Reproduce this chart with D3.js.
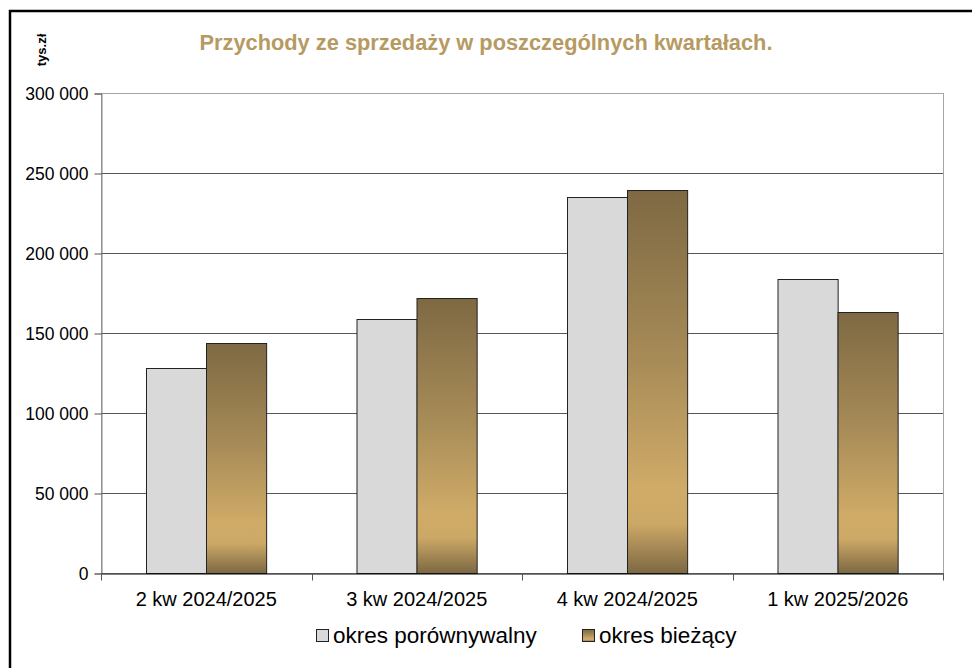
<!DOCTYPE html>
<html>
<head>
<meta charset="utf-8">
<script src="https://cdn.jsdelivr.net/npm/d3@7"></script>
<style>
  body { margin: 0; background: #fff; }
  svg { display: block; font-family: Arial, 'Liberation Sans', sans-serif; }
</style>
</head>
<body>
<script>
const categories = ['2 kw 2024/2025', '3 kw 2024/2025', '4 kw 2024/2025', '1 kw 2025/2026'];
const seriesNames = ['okres porównywalny', 'okres bieżący'];
const porownywalny = [128000, 159000, 235000, 184000];
const biezacy = [144000, 172000, 239500, 163000];
const yTicks = [0, 50000, 100000, 150000, 200000, 250000, 300000];

const box = {
  width: 972, height: 668,
  left: 101, top: 93, right: 943, bottom: 573
}

const svg = d3.select('body')
  .append('svg')
  .attr('width', box.width)
  .attr('height', box.height)

const defs = svg.append('defs')
const grad = defs.append('linearGradient')
  .attr('id', 'gold')
  .attr('x1', 0).attr('y1', 0).attr('x2', 0).attr('y2', 1)
grad.append('stop').attr('offset', '0%').attr('stop-color', '#7e6943')
grad.append('stop').attr('offset', '45%').attr('stop-color', '#a88c58')
grad.append('stop').attr('offset', '78%').attr('stop-color', '#d0ab68')
grad.append('stop').attr('offset', '87%').attr('stop-color', '#cca866')
grad.append('stop').attr('offset', '100%').attr('stop-color', '#7c6843')

// outer frame (only top and left visible)
svg.append('rect')
  .attr('x', 10).attr('y', 11)
  .attr('width', 1000).attr('height', 700)
  .attr('fill', 'none')
  .attr('stroke', '#000')
  .attr('stroke-width', 2.5)

const x = d3.scaleBand().domain(categories).range([box.left, box.right])
const x1 = d3.scaleBand().domain(seriesNames).range([0, x.bandwidth()]).paddingInner(0).paddingOuter(0.75)
const y = d3.scaleLinear().domain([0, 300000]).range([box.bottom, box.top])

// plot border
svg.append('rect')
  .attr('x', box.left + 0.5).attr('y', box.top + 0.5)
  .attr('width', box.right - box.left).attr('height', box.bottom - box.top)
  .attr('fill', 'none')
  .attr('stroke', '#a6a6a6')

// grid
svg.append('g')
  .selectAll('line')
  .data(yTicks.filter(d => d > 0 && d < 300000))
  .join('line')
  .attr('x1', box.left).attr('x2', box.right)
  .attr('y1', d => Math.round(y(d)) + 0.5)
  .attr('y2', d => Math.round(y(d)) + 0.5)
  .attr('stroke', '#555')

// y axis
const yAxis = d3.axisLeft(y)
  .tickValues(yTicks)
  .tickSize(7)
  .tickPadding(6)
  .tickFormat(d => d3.format(',')(d).replace(/,/g, ' '))

const gy = svg.append('g')
  .attr('transform', `translate(${box.left + 0.5}, 0.5)`)
  .call(yAxis)
gy.select('.domain').attr('stroke', '#808080')
gy.selectAll('.tick line').attr('stroke', '#555')
gy.selectAll('.tick text')
  .attr('font-size', 17.5)
  .attr('fill', '#000')

// bars
const data = categories.map((c, i) => ({ cat: c, values: [porownywalny[i], biezacy[i]] }))
const groups = svg.append('g')
  .selectAll('g')
  .data(data)
  .join('g')
  .attr('transform', d => `translate(${x(d.cat)}, 0)`)

groups.selectAll('rect')
  .data(d => d.values.map((v, j) => ({ name: seriesNames[j], v })))
  .join('rect')
  .attr('x', d => Math.round(x1(d.name)) + 0.5)
  .attr('y', d => Math.round(y(d.v)) + 0.5)
  .attr('width', x1.bandwidth())
  .attr('height', d => box.bottom - Math.round(y(d.v)))
  .attr('fill', d => d.name === seriesNames[0] ? '#d9d9d9' : 'url(#gold)')
  .attr('stroke', '#222')
  .attr('stroke-width', 1)

// x axis
const xAxis = d3.axisBottom(x).tickSize(0).tickPadding(18)
const gx = svg.append('g')
  .attr('transform', `translate(0, ${box.bottom + 0.5})`)
  .call(xAxis)
gx.select('.domain').attr('stroke', '#000')
gx.selectAll('.tick text').attr('font-size', 20).attr('fill', '#000')
gx.selectAll('.sep')
  .data(d3.range(categories.length + 1))
  .join('line')
  .attr('class', 'sep')
  .attr('x1', i => Math.round(box.left + i * x.step()) + 0.5)
  .attr('x2', i => Math.round(box.left + i * x.step()) + 0.5)
  .attr('y1', 0).attr('y2', 7)
  .attr('stroke', '#555')

// title
svg.append('text')
  .attr('x', 486).attr('y', 50)
  .attr('text-anchor', 'middle')
  .attr('font-size', 21.8)
  .attr('font-weight', 'bold')
  .attr('fill', '#b69a62')
  .text('Przychody ze sprzedaży w poszczególnych kwartałach.')

// unit
svg.append('text')
  .attr('transform', 'translate(46, 50) rotate(-90)')
  .attr('text-anchor', 'middle')
  .attr('font-size', 13)
  .attr('font-weight', 'bold')
  .attr('fill', '#000')
  .text('tys.zł')

// legend
const legendPos = [316, 582]
const legend = svg.append('g')
  .selectAll('g')
  .data(seriesNames)
  .join('g')
  .attr('transform', (d, i) => `translate(${legendPos[i]}, 629)`)
legend.append('rect')
  .attr('x', 0.5).attr('y', 0.5)
  .attr('width', 12).attr('height', 12)
  .attr('fill', (d, i) => i === 0 ? '#d9d9d9' : 'url(#gold)')
  .attr('stroke', '#222')
legend.append('text')
  .attr('x', 17).attr('y', 13.5)
  .attr('font-size', 22.5)
  .attr('fill', '#000')
  .text(d => d)
</script>
</body>
</html>
